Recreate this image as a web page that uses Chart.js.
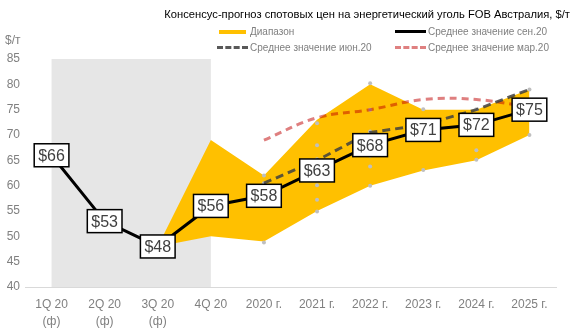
<!DOCTYPE html>
<html>
<head>
<meta charset="utf-8">
<script src="https://cdn.jsdelivr.net/npm/chart.js@4"></script>
<style>
  html, body { margin:0; padding:0; background:#fff; }
  #wrap { position:relative; width:575px; height:332px; font-family:"Liberation Sans", Arial, sans-serif; }
  canvas { position:absolute; left:0; top:0; }
  .t { position:absolute; white-space:nowrap; }
  #title { right:5px; top:8px; font-size:11.2px; color:#000; }
  .lg { position:absolute; font-size:10px; color:#7f7f7f; white-space:nowrap; line-height:12px; }
  .sw { position:absolute; }
  #unit { left:5px; top:33px; font-size:12px; color:#808080; }
</style>
</head>
<body>
<div id="wrap">
  <canvas id="c" width="575" height="332"></canvas>
  <div class="t" id="title">Консенсус-прогноз спотовых цен на энергетический уголь FOB Австралия, $/т</div>
  <div class="t" id="unit">$/т</div>
  <div class="sw" style="left:219px;top:30px;width:27px;height:4px;background:#FFC000"></div>
  <div class="lg" style="left:250px;top:26px">Диапазон</div>
  <div class="sw" style="left:395px;top:30px;width:31px;height:0;border-top:3px solid #000"></div>
  <div class="lg" style="left:428px;top:26px">Среднее значение сен.20</div>
  <div class="sw" style="left:217px;top:46px;width:31px;height:0;border-top:3px dashed #595959"></div>
  <div class="lg" style="left:250px;top:42px">Среднее значение июн.20</div>
  <div class="sw" style="left:395px;top:46px;width:31px;height:0;border-top:3px dashed #DF8080"></div>
  <div class="lg" style="left:428px;top:42px">Среднее значение мар.20</div>
</div>
<script>
const categories = [["1Q 20","(ф)"],["2Q 20","(ф)"],["3Q 20","(ф)"],"4Q 20","2020 г.","2021 г.","2022 г.","2023 г.","2024 г.","2025 г."];
const meanSep20 = [66, 53, 48, 56, 58, 63, 68, 71, 72, 75];
const rangeHigh = [null, null, 48, 69, 62, 73, 80, 75, 75, 79];
const rangeLow  = [null, null, 48, 50, 49, 55, 60, 63, 65, 70];
const meanJun20 = [null, null, null, null, 60.5, 65, 70.5, 72, 75, 79];
const meanMar20 = [null, null, null, null, 69, 73.4, 75, 77, 77, 75.5];
const forecastCat = [4, 4, 4, 5, 5, 5, 5, 5, 5, 5, 6, 6, 6, 6, 6, 6, 7, 7, 8, 8, 8, 9, 9];
const forecastVal = [62, 60.5, 48.8, 72.3, 68, 65.2, 62.5, 60.1, 57.2, 54.9, 80.2, 75, 70.7, 65.9, 63.8, 60, 75.1, 63.1, 75.1, 67, 65.1, 79, 70];
const yTicks = [40, 45, 50, 55, 60, 65, 70, 75, 80, 85];
const factualCount = 4;

const forecastPoints = forecastCat.map((c, i) => ({x: categories[c], y: forecastVal[i]}));

const shadePlugin = {
  id: 'shade',
  beforeDatasetsDraw(chart) {
    const {ctx, chartArea, scales} = chart;
    const x0 = scales.x.getPixelForValue(0);
    const x1 = scales.x.getPixelForValue(factualCount - 1);
    ctx.save();
    ctx.fillStyle = '#E6E6E6';
    ctx.fillRect(x0, chartArea.top, x1 - x0, chartArea.bottom - chartArea.top);
    ctx.restore();
  }
};

const dotsPlugin = {
  id: 'dots',
  afterDatasetDraw(chart, args) {
    if (args.index !== 1) return;
    const {ctx, scales} = chart;
    ctx.save();
    ctx.fillStyle = '#BFBFBF';
    forecastCat.forEach((c, i) => {
      const x = scales.x.getPixelForValue(c);
      const y = scales.y.getPixelForValue(forecastVal[i]);
      ctx.beginPath();
      ctx.arc(x, y, 2, 0, Math.PI * 2);
      ctx.fill();
    });
    ctx.restore();
  }
};

const labelPlugin = {
  id: 'boxLabels',
  afterDatasetsDraw(chart) {
    const {ctx} = chart;
    const meta = chart.getDatasetMeta(4);
    ctx.save();
    ctx.font = '16px "Liberation Sans", Arial, sans-serif';
    ctx.textAlign = 'center';
    ctx.textBaseline = 'middle';
    meta.data.forEach((pt, i) => {
      const txt = '$' + meanSep20[i];
      const w = ctx.measureText(txt).width + 8;
      const h = 23;
      ctx.fillStyle = '#fff';
      ctx.fillRect(pt.x - w/2, pt.y - h/2, w, h);
      ctx.lineWidth = 1.5;
      ctx.strokeStyle = '#000';
      ctx.strokeRect(pt.x - w/2, pt.y - h/2, w, h);
      ctx.fillStyle = '#404040';
      ctx.fillText(txt, pt.x, pt.y + 1);
    });
    ctx.restore();
  }
};

new Chart(document.getElementById('c'), {
  type: 'line',
  data: {
    labels: categories,
    datasets: [
      { label: 'high', data: rangeHigh, borderWidth: 0, pointRadius: 0, fill: '+1', backgroundColor: '#FFC000', borderColor: 'rgba(0,0,0,0)', order: 10 },
      { label: 'low', data: rangeLow, borderWidth: 0, pointRadius: 0, fill: false, borderColor: 'rgba(0,0,0,0)', order: 9 },
      { label: 'Среднее значение мар.20', data: meanMar20, borderColor: 'rgba(192,0,0,0.5)', borderWidth: 3, borderDash: [7, 5], pointRadius: 0, tension: 0.4, fill: false, order: 8 },
      { label: 'Среднее значение июн.20', data: meanJun20, borderColor: 'rgba(64,64,64,0.85)', borderWidth: 3, borderDash: [8, 5], pointRadius: 0, tension: 0, fill: false, order: 7 },
      { label: 'Среднее значение сен.20', data: meanSep20, borderColor: '#000', borderWidth: 3, pointRadius: 0, tension: 0, fill: false, order: 1 }
    ]
  },
  options: {
    responsive: false,
    animation: false,
    layout: { padding: { top: 59, left: 0, right: 19, bottom: 0 } },
    plugins: { legend: { display: false }, tooltip: { enabled: false } },
    scales: {
      x: {
        type: 'category',
        offset: true,
        grid: { display: false, drawTicks: false },
        border: { display: true, color: '#D9D9D9', width: 1 },
        ticks: { color: '#808080', font: { size: 12, family: '"Liberation Sans", Arial, sans-serif', lineHeight: 1.4 }, padding: 9, maxRotation: 0, autoSkip: false },
        afterFit(s) { s.height = 45; }
      },
      y: {
        min: 40, max: 85,
        afterBuildTicks(s) { s.ticks = yTicks.map(v => ({value: v})); },
        grid: { display: false, drawTicks: false },
        border: { display: false },
        ticks: { color: '#808080', font: { size: 12, family: '"Liberation Sans", Arial, sans-serif' }, padding: 5 },
        afterFit(s) { s.width = 25; }
      }
    }
  },
  plugins: [shadePlugin, dotsPlugin, labelPlugin]
});
</script>
</body>
</html>
